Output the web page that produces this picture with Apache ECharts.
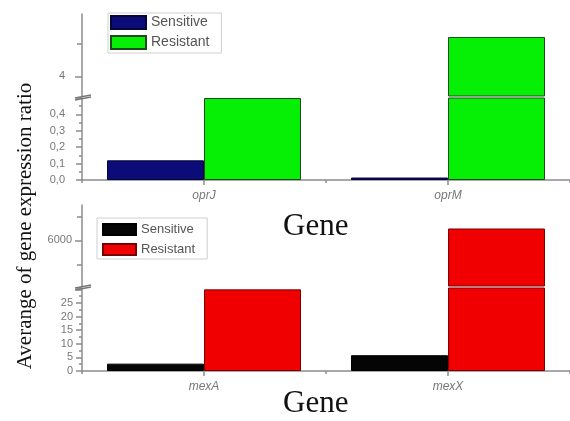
<!DOCTYPE html>
<html>
<head>
<meta charset="utf-8">
<script src="https://cdn.jsdelivr.net/npm/echarts@6/dist/echarts.min.js"></script>
<style>html,body{margin:0;padding:0;background:#fff}#c{width:570px;height:421px}</style>
</head>
<body>
<div id="c"></div>
<script>
// ---- data ----
const categoriesTop = ['oprJ', 'oprM'];
const sensitiveTop = [0.12, 0.015];
const resistantTop = [0.5, 5.2];
const categoriesBottom = ['mexA', 'mexX'];
const sensitiveBottom = [2.7, 5.8];
const resistantBottom = [30, 6500];
const topUpperMajorTicks = [4];
const topUpperMinorTicks = [5];
const bottomUpperMajorTicks = [6000];
const bottomUpperMinorTicks = [5000, 7000];
const seriesNames = ['Sensitive', 'Resistant'];

// ---- layout ----
const L = 82;
const g = [
  {left: L, right: 0, top: 14, height: 82},   // top panel upper segment
  {left: L, right: 0, top: 98, height: 82},   // top panel lower segment
  {left: L, right: 0, top: 205, height: 81},  // bottom panel upper segment
  {left: L, right: 0, top: 288, height: 83}   // bottom panel lower segment
];
const ranges = [[3.4, 5.9], [0, 0.5], [4100, 7480], [0, 30.5]];
const axisColor = '#8c8c8c';
const labelColor = '#777';
const sans = 'Liberation Sans, Arial, sans-serif';
const serif = 'Liberation Serif, Times New Roman, serif';

const col = {
  sTop: '#0c0c78', rTop: '#05f005',
  sBot: '#050505', rBot: '#f00000'
};
const border = {
  sTop: '#05053a', rTop: '#1d4a1d', sBot: '#000', rBot: '#7a0000'
};

function upperOnly(arr, lowMax) { return arr.map(v => v > lowMax ? v : '-'); }

const lineStyle = {color: axisColor, width: 1.5};

function catAxis(gi, data, show) {
  return {
    gridIndex: gi, type: 'category', data: data, boundaryGap: true,
    show: show,
    axisLine: {show: true, lineStyle: lineStyle},
    axisTick: {show: true, alignWithLabel: true, length: 5, lineStyle: lineStyle},
    axisLabel: {show: true, fontStyle: 'italic', color: labelColor, fontSize: 12, fontFamily: sans, margin: 10}
  };
}
function boundaryAxis(gi, data) {
  return {
    gridIndex: gi, type: 'category', data: data, boundaryGap: true, position: 'bottom',
    axisLine: {show: false}, axisLabel: {show: false},
    axisTick: {show: true, length: 3, lineStyle: lineStyle}
  };
}

const xAxis = [
  catAxis(0, categoriesTop, false),
  catAxis(1, categoriesTop, true),
  boundaryAxis(1, categoriesTop),
  catAxis(2, categoriesBottom, false),
  catAxis(3, categoriesBottom, true),
  boundaryAxis(3, categoriesBottom)
];

function upperY(gi, range, ticks, major, margin) {
  return {
    gridIndex: gi, type: 'value', min: range[0], max: range[1], position: 'left',
    splitLine: {show: false},
    axisLine: {show: major, lineStyle: lineStyle},
    axisTick: {show: true, length: major ? 7 : 5, customValues: ticks, lineStyle: lineStyle},
    axisLabel: major ? {show: true, customValues: ticks, color: labelColor, fontSize: 11, fontFamily: sans, margin: margin,
                        formatter: v => String(v)}
                     : {show: false}
  };
}
function lowerY(gi, range, interval, hideFrom, fmt, margin) {
  return {
    gridIndex: gi, type: 'value', min: range[0], max: range[1], interval: interval, position: 'left',
    splitLine: {show: false},
    axisLine: {show: true, lineStyle: lineStyle},
    axisTick: {show: true, length: 6, lineStyle: lineStyle},
    minorTick: {show: true, splitNumber: 2, length: 3, lineStyle: lineStyle},
    axisLabel: {color: labelColor, fontSize: 11, fontFamily: sans, margin: margin,
      formatter: v => (v >= hideFrom ? '' : fmt(v))}
  };
}

const yAxis = [
  upperY(0, ranges[0], topUpperMajorTicks, true, 17),
  upperY(0, ranges[0], topUpperMinorTicks, false, 17),
  lowerY(1, ranges[1], 0.1, 0.45, v => v.toFixed(1).replace('.', ','), 17),
  upperY(2, ranges[2], bottomUpperMajorTicks, true, 10),
  upperY(2, ranges[2], bottomUpperMinorTicks, false, 10),
  lowerY(3, ranges[3], 5, 29, v => String(Math.round(v)), 9)
];

function bar(name, xi, yi, data, c, b) {
  return {
    type: 'bar', name: name, xAxisIndex: xi, yAxisIndex: yi, data: data,
    barWidth: 97, barGap: '0%', clip: true,
    itemStyle: {color: c, borderColor: b, borderWidth: 1},
    emphasis: {disabled: true}
  };
}

const series = [
  bar(seriesNames[0] + '|1', 1, 2, sensitiveTop, col.sTop, border.sTop),
  bar(seriesNames[1] + '|1', 1, 2, resistantTop, col.rTop, border.rTop),
  bar(seriesNames[0] + '|1', 0, 0, upperOnly(sensitiveTop, ranges[1][1]), col.sTop, border.sTop),
  bar(seriesNames[1] + '|1', 0, 0, upperOnly(resistantTop, ranges[1][1]), col.rTop, border.rTop),
  bar(seriesNames[0] + '|2', 4, 5, sensitiveBottom, col.sBot, border.sBot),
  bar(seriesNames[1] + '|2', 4, 5, resistantBottom, col.rBot, border.rBot),
  bar(seriesNames[0] + '|2', 3, 3, upperOnly(sensitiveBottom, ranges[3][1]), col.sBot, border.sBot),
  bar(seriesNames[1] + '|2', 3, 3, upperOnly(resistantBottom, ranges[3][1]), col.rBot, border.rBot)
];

const legendBase = {
  orient: 'vertical', icon: 'rect', selectedMode: false,
  borderColor: '#cfcfcf', borderWidth: 1, backgroundColor: '#fff',
  formatter: n => n.split('|')[0],
  textStyle: {color: '#555', fontFamily: sans}
};
const legend = [
  Object.assign({}, legendBase, {
    data: [seriesNames[0] + '|1', seriesNames[1] + '|1'],
    left: 108, top: 13, padding: [2, 12, 3, 2],
    itemWidth: 35, itemHeight: 13, itemGap: 5,
    textStyle: Object.assign({}, legendBase.textStyle, {fontSize: 14})
  }),
  Object.assign({}, legendBase, {
    data: [seriesNames[0] + '|2', seriesNames[1] + '|2'],
    left: 97, top: 218, padding: [5, 12, 3, 5],
    itemWidth: 33, itemHeight: 11, itemGap: 7,
    textStyle: Object.assign({}, legendBase.textStyle, {fontSize: 13})
  })
];

const title = [
  {text: 'Gene', left: 278, top: 206, textStyle: {fontFamily: serif, fontSize: 31, fontWeight: 'normal', color: '#111'}},
  {text: 'Gene', left: 278, top: 383, textStyle: {fontFamily: serif, fontSize: 31, fontWeight: 'normal', color: '#111'}}
];

function breakMark(y) {
  return [
    {type: 'line', shape: {x1: 75, y1: y + 1, x2: 91, y2: y - 2}, style: {stroke: '#777', lineWidth: 1.3}, z: 100},
    {type: 'line', shape: {x1: 75, y1: y + 3, x2: 91, y2: y}, style: {stroke: '#777', lineWidth: 1.3}, z: 100}
  ];
}
const breakTop = g[1].top - 1;
const breakBot = g[3].top - 1;

const graphic = [
  {type: 'text', x: 25, y: 226, rotation: Math.PI / 2,
   style: {text: 'Averange of gene expression ratio', font: '21px ' + serif, fill: '#111', textAlign: 'center', textVerticalAlign: 'middle'}}
].concat(breakMark(breakTop), breakMark(breakBot));

const chart = echarts.init(document.getElementById('c'), null, {renderer: 'canvas'});
chart.setOption({
  animation: false,
  backgroundColor: '#fff',
  grid: g,
  xAxis: xAxis,
  yAxis: yAxis,
  series: series,
  legend: legend,
  title: title,
  graphic: graphic
});
</script>
</body>
</html>
